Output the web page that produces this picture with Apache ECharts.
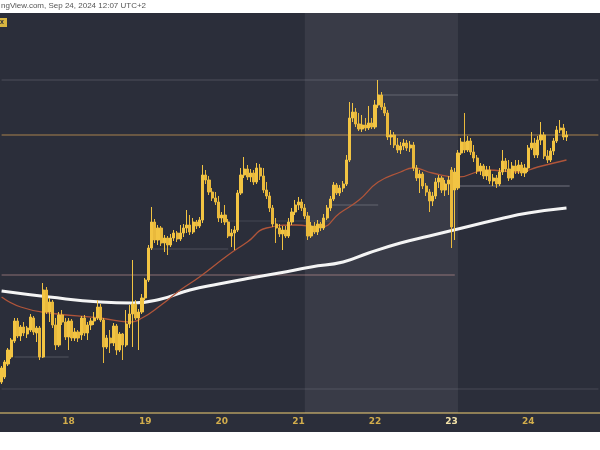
<!DOCTYPE html>
<html>
<head>
<meta charset="utf-8">
<script src="https://cdn.jsdelivr.net/npm/echarts@6/dist/echarts.min.js"></script>
<style>html,body{margin:0;padding:0;background:#fff;}#c{width:600px;height:450px;}</style>
</head>
<body>
<div id="c"></div>
<script>
// hourly candles, Sep 17 03:00 -> Sep 24 12:00 (UTC+2), [open, close, low, high]
const candles = [
[2068,2082,2066,2084],[2073,2088,2071,2090],[2086,2100,2084,2102],[2093,2110,2091,2112],[2109,2129,2107,2132],
[2129,2114,2112,2132],[2114,2123,2109,2125],[2123,2117,2114,2128],[2116,2122,2112,2124],[2120,2133,2118,2136],
[2132,2118,2115,2134],[2117,2122,2108,2124],[2122,2093,2090,2124],[2093,2160,2092,2167],[2160,2138,2136,2163],
[2138,2148,2128,2152],[2148,2125,2122,2150],[2125,2105,2100,2132],[2105,2135,2103,2138],[2135,2128,2125,2140],
[2128,2113,2110,2132],[2113,2129,2100,2132],[2129,2112,2109,2131],[2112,2118,2109,2122],[2118,2112,2108,2120],
[2115,2132,2110,2134],[2132,2117,2114,2135],[2117,2125,2110,2128],[2125,2129,2120,2132],[2129,2132,2125,2138],
[2132,2143,2130,2150],[2143,2130,2128,2146],[2130,2103,2087,2132],[2103,2112,2101,2115],[2112,2107,2097,2120],
[2107,2124,2104,2127],[2124,2100,2095,2126],[2100,2116,2098,2118],[2116,2105,2090,2117],[2105,2126,2103,2140],
[2126,2136,2122,2145],[2136,2146,2103,2190],[2146,2132,2130,2150],[2132,2138,2100,2141],[2138,2152,2136,2156],
[2152,2170,2150,2172],[2170,2202,2168,2205],[2202,2228,2200,2243],[2228,2210,2207,2231],[2210,2222,2205,2225],
[2222,2207,2204,2224],[2207,2212,2198,2215],[2212,2205,2195,2214],[2205,2212,2203,2216],[2212,2217,2209,2220],
[2217,2211,2208,2219],[2211,2217,2209,2225],[2217,2222,2213,2226],[2222,2225,2217,2240],[2225,2218,2215,2235],
[2218,2228,2216,2232],[2228,2224,2221,2230],[2224,2230,2222,2233],[2230,2275,2227,2285],[2275,2270,2266,2280],
[2270,2258,2255,2274],[2258,2252,2249,2262],[2252,2248,2245,2258],[2248,2232,2228,2254],[2232,2235,2227,2238],
[2235,2228,2225,2245],[2228,2214,2212,2231],[2214,2217,2203,2221],[2217,2220,2200,2224],[2220,2257,2218,2260],
[2257,2275,2255,2282],[2275,2281,2272,2293],[2281,2273,2270,2285],[2273,2277,2268,2281],[2277,2268,2265,2280],
[2268,2282,2266,2287],[2282,2274,2270,2286],[2274,2260,2257,2282],[2260,2254,2251,2268],[2254,2242,2238,2258],
[2242,2226,2223,2245],[2226,2222,2207,2232],[2222,2216,2213,2226],[2216,2220,2200,2224],[2220,2214,2212,2224],
[2214,2228,2212,2232],[2228,2238,2225,2242],[2238,2245,2235,2250],[2245,2248,2240,2253],[2248,2242,2239,2251],
[2242,2234,2231,2246],[2234,2214,2210,2238],[2214,2224,2212,2228],[2224,2218,2216,2228],[2218,2226,2215,2230],
[2226,2222,2219,2228],[2222,2232,2220,2236],[2232,2242,2230,2245],[2242,2251,2239,2254],[2251,2265,2249,2268],
[2265,2257,2255,2267],[2257,2262,2254,2265],[2262,2266,2258,2269],[2266,2290,2264,2295],[2290,2332,2288,2348],
[2332,2338,2328,2347],[2338,2326,2323,2342],[2326,2321,2319,2337],[2321,2325,2318,2335],[2325,2322,2319,2332],
[2322,2327,2320,2344],[2327,2323,2321,2332],[2323,2345,2321,2350],[2345,2355,2342,2370],[2355,2343,2340,2358],
[2343,2337,2334,2347],[2337,2313,2310,2340],[2313,2315,2305,2320],[2315,2305,2302,2318],[2305,2300,2297,2312],
[2300,2304,2296,2308],[2304,2307,2300,2311],[2307,2302,2299,2310],[2302,2305,2298,2309],[2305,2282,2279,2308],
[2282,2272,2269,2285],[2272,2276,2257,2280],[2276,2264,2261,2278],[2264,2258,2254,2267],[2258,2249,2238,2261],
[2249,2254,2244,2258],[2254,2268,2251,2272],[2268,2272,2262,2275],[2272,2260,2257,2274],[2260,2266,2254,2270],
[2266,2270,2255,2274],[2280,2223,2202,2283],[2260,2278,2210,2282],[2262,2297,2260,2300],[2297,2308,2295,2312],
[2308,2300,2297,2337],[2300,2309,2298,2314],[2309,2298,2295,2312],[2298,2292,2288,2305],[2292,2279,2276,2295],
[2279,2284,2275,2287],[2284,2274,2271,2286],[2274,2280,2270,2284],[2280,2269,2266,2284],[2269,2272,2264,2276],
[2272,2266,2262,2275],[2266,2278,2264,2282],[2278,2289,2275,2300],[2289,2281,2278,2292],[2281,2272,2269,2290],
[2272,2284,2270,2288],[2284,2279,2276,2290],[2279,2285,2276,2290],[2285,2277,2274,2288],[2277,2282,2273,2286],
[2282,2302,2278,2305],[2302,2307,2300,2318],[2307,2295,2292,2312],[2295,2310,2292,2314],[2310,2315,2305,2328],
[2315,2294,2291,2318],[2294,2290,2287,2300],[2290,2299,2288,2302],[2299,2309,2295,2312],[2309,2320,2307,2324],
[2320,2322,2317,2330],[2322,2313,2310,2326],[2313,2315,2309,2319]
];
// moving averages: [candle index, value]
const maSlow = [[0,2159],[15,2153],[31,2148],[41,2147],[50,2151],[59,2160],[68,2166],[78,2172],[87,2177],[97,2183],[107,2188],[115,2197],[125,2207],[134,2214],[143,2221],[156,2231],[165,2237],[177,2242]];
const maFast = [[0,2153],[6,2143],[15,2137],[31,2132],[40,2128],[44,2132],[50,2145],[56,2160],[62,2173],[71,2195],[77,2208],[83,2222],[92,2225],[100,2223],[106,2237],[112,2250],[118,2268],[125,2278],[129,2282],[135,2277],[143,2273],[152,2280],[162,2278],[168,2283],[177,2290]];
// horizontal levels: value, from index, to index
const levelValues = [2370, 2355, 2315, 2264, 2245, 2229, 2201, 2175, 2093, 2061];
const levelFrom   = [0, 118, 0, 143, 103, 70, 47, 0, 4, 0];
const levelTo     = [187, 143, 187, 178, 118, 103, 71, 142, 21, 187];
const levelColors = ['rgba(200,200,210,0.22)','rgba(200,200,210,0.3)','rgba(222,165,85,0.7)','rgba(200,200,210,0.45)','rgba(200,200,210,0.3)','rgba(200,200,210,0.16)','rgba(200,200,210,0.22)','rgba(220,165,160,0.55)','rgba(200,200,210,0.25)','rgba(200,200,210,0.18)'];
const weekendFrom = 95, weekendTo = 143;

const categories = [];
for (let k = 0; k < 188; k++) {
  const h = 3 + k;
  const day = 17 + Math.floor(h / 24);
  const hr = h % 24;
  categories.push(day + ' ' + (hr < 10 ? '0' : '') + hr + ':00');
}

const chart = echarts.init(document.getElementById('c'), null, {renderer: 'canvas'});

const levelSeries = levelValues.map((v, i) => ({
  type: 'line', silent: true, showSymbol: false, z: 1,
  data: [[levelFrom[i], v], [levelTo[i], v]],
  lineStyle: {color: levelColors[i], width: 1}
}));

chart.setOption({
  backgroundColor: '#ffffff',
  animation: false,
  graphic: [
    {type: 'rect', shape: {x: 0, y: 13, width: 600, height: 419}, style: {fill: '#2b2e3a'}, z: -10},
    {type: 'text', left: 1, top: 2, style: {text: 'ngView.com, Sep 24, 2024 12:07 UTC+2', fill: '#555', font: '8px "Liberation Sans", sans-serif'}},
    {type: 'rect', shape: {x: 0, y: 18, width: 7, height: 9}, style: {fill: '#d9b540'}, z: 10},
    {type: 'text', left: 0, top: 19, style: {text: 'x', fill: '#2b2e3a', font: 'bold 7px sans-serif'}, z: 11}
  ],
  grid: {left: 0, right: 0, top: 13, bottom: 37},
  xAxis: {
    type: 'category',
    data: categories,
    boundaryGap: true,
    axisLine: {show: true, lineStyle: {color: '#8f7f56', width: 2}},
    axisTick: {show: false},
    splitLine: {show: false},
    axisLabel: {
      interval: function (idx, val) { return val.endsWith(' 00:00'); },
      formatter: function (val) {
        const d = val.split(' ')[0];
        return d === '23' ? '{b|' + d + '}' : '{a|' + d + '}';
      },
      margin: 4,
      rich: {
        a: {color: '#d2ad4c', fontSize: 9, fontWeight: 'bold', fontFamily: 'DejaVu Sans'},
        b: {color: '#f3e2a8', fontSize: 9, fontWeight: 'bold', fontFamily: 'DejaVu Sans'}
      }
    }
  },
  yAxis: {
    type: 'value', min: 2037, max: 2437, show: false, splitLine: {show: false}
  },
  series: levelSeries.concat([
    {
      type: 'line', data: maSlow, smooth: true, showSymbol: false, z: 2,
      lineStyle: {color: '#f4f4f4', width: 3}
    },
    {
      type: 'line', data: maFast, smooth: true, showSymbol: false, z: 2,
      lineStyle: {color: '#b0553a', width: 1.3}
    },
    {
      type: 'candlestick', data: candles, barWidth: '82%', z: 3,
      itemStyle: {color: '#f2c443', color0: '#e9b93c', borderColor: '#f2c443', borderColor0: '#e9b93c', borderWidth: 1},
      markArea: {
        silent: true,
        itemStyle: {color: 'rgba(255,255,255,0.065)'},
        data: [[{xAxis: weekendFrom}, {xAxis: weekendTo}]]
      }
    }
  ])
});
</script>
</body>
</html>
